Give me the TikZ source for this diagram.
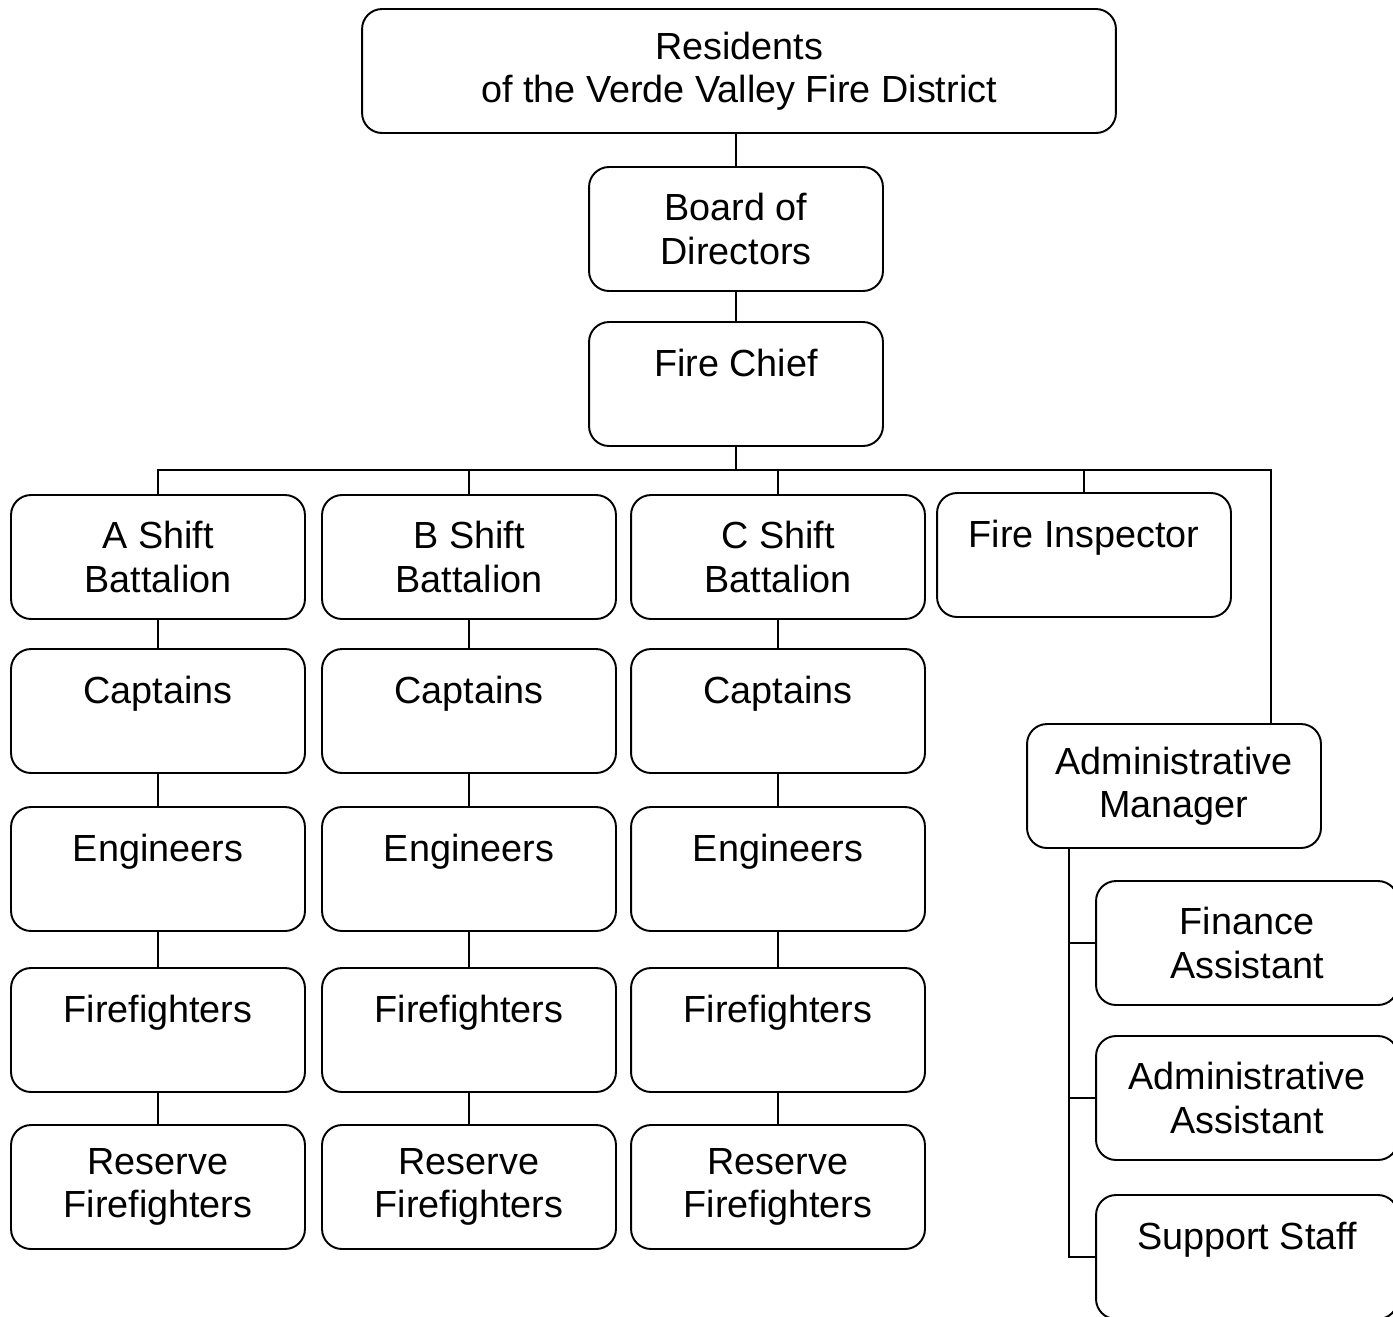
\documentclass[tikz,border=0pt]{standalone}
\usepackage{fontspec}
\setmainfont{Liberation Sans}
\tikzset{unit/.style={draw, rounded corners=0.4cm, line width=1.1pt,
  minimum width=5.88cm, minimum height=2.48cm, inner sep=0pt,
  align=center, font=\fontsize{21.5}{24.5}\selectfont},
  link/.style={line width=0.8pt}}

\begin{document}
\begin{tikzpicture}[x=0.02cm,y=-0.02cm]
        \useasboundingbox (0,0) rectangle (1393,1316);

        \node[unit, minimum width=15.08cm] (res) at (739,71) {Residents\\of the Verde Valley Fire District};
        \node[unit] (board) at (736,229) {Board of\\Directors};
        \node[unit] (chief) at (736,384) {Fire Chief\\~};

        % the three shift columns
        \foreach \n/\x/\s in {a/158/A, b/469/B, c/778/C}{
          \node[unit] (\n bat) at (\x,557) {\s{} Shift\\Battalion};
          \node[unit] (\n cap) at (\x,711) {Captains\\~};
          \node[unit] (\n eng) at (\x,869) {Engineers\\~};
          \node[unit] (\n ff) at (\x,1030) {Firefighters\\~};
          \node[unit] (\n rsv) at (\x,1187) {Reserve\\Firefighters};
          \draw[link] (\n bat) -- (\n cap)
                      (\n cap) -- (\n eng)
                      (\n eng) -- (\n ff)
                      (\n ff) -- (\n rsv);
        }

        \node[unit] (insp) at (1084,555) {Fire Inspector\\~};
        \node[unit] (mgr) at (1174,786) {Administrative\\Manager};
        \node[unit, minimum width=6.04cm] (fin) at (1247,943) {Finance\\Assistant};
        \node[unit, minimum width=6.04cm] (aast) at (1247,1098) {Administrative\\Assistant};
        \node[unit, minimum width=6.04cm] (staff) at (1247,1257) {Support Staff\\~};

        \coordinate (bus) at (736,470);
        \coordinate (mgrin) at (1271,724);
        \coordinate (spine) at (1069,848);

        \draw[link] (res.south -| board) -- (board)
                    (board) -- (chief)
                    (chief) -- (bus);
        \draw[link] (bus) -| (abat)
                    (bus) -| (bbat)
                    (bus) -| (cbat)
                    (bus) -| (insp)
                    (bus) -| (mgrin);
        \draw[link] (spine) |- (fin)
                    (spine) |- (aast)
                    (spine) |- (staff);
    \end{tikzpicture}
\end{document}
